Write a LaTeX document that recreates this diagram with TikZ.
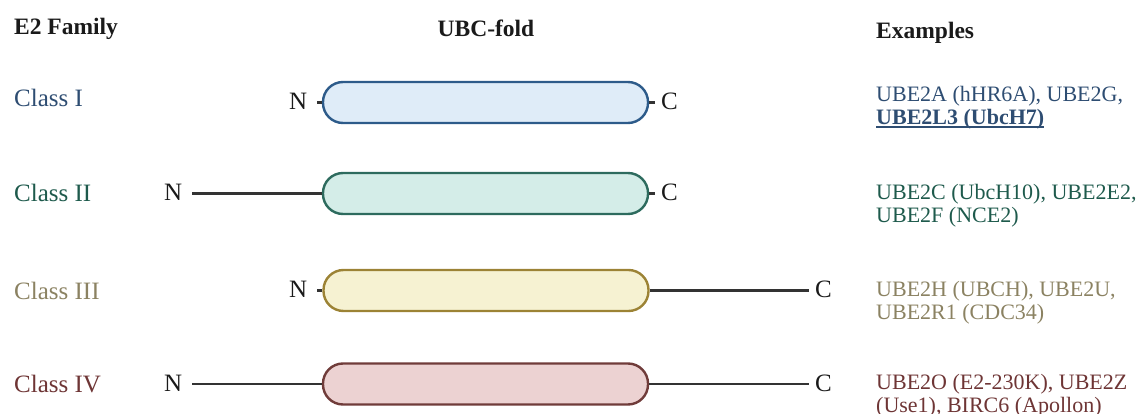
\documentclass[tikz,border=0pt]{standalone}
\usepackage{fontspec}
\setmainfont{Liberation Serif}
\definecolor{ink}{HTML}{1A1A1A}
\definecolor{linegray}{HTML}{333333}
\definecolor{c1text}{HTML}{2E4D72}
\definecolor{c1draw}{HTML}{2D5B8A}
\definecolor{c1fill}{HTML}{DFECF8}
\definecolor{c2text}{HTML}{1E5A4C}
\definecolor{c2draw}{HTML}{2D6B5E}
\definecolor{c2fill}{HTML}{D4EDE8}
\definecolor{c3text}{HTML}{8B8262}
\definecolor{c3draw}{HTML}{9C8335}
\definecolor{c3fill}{HTML}{F6F2D2}
\definecolor{c4text}{HTML}{6E3535}
\definecolor{c4draw}{HTML}{703C3A}
\definecolor{c4fill}{HTML}{ECD2D2}
\newcommand\myul[1]{\setbox0\hbox{#1}\rlap{\rule[-3.2pt]{\wd0}{1.6pt}}\box0}
\begin{document}
\begin{tikzpicture}[x=1pt,y=-1pt,
  box/.style={draw, line width=2.4pt, rounded corners=20pt, minimum width=325pt, minimum height=41pt, inner sep=0pt},
  conn/.style={draw=linegray, line width=2.5pt},
  term/.style={font=\fontsize{25}{25}\selectfont, text=ink, inner ysep=0pt},
  nterm/.style={term, inner xsep=9.5pt, anchor=base east},
  cterm/.style={term, inner xsep=6pt, anchor=base west},
  cls/.style={font=\fontsize{25}{25}\selectfont, anchor=base west, inner sep=0pt},
  ex/.style={font=\fontsize{22}{23}\selectfont, align=left, anchor=north west, inner sep=0pt},
  head/.style={font=\bfseries\fontsize{23.5}{24}\selectfont, text=ink, inner sep=0pt}]
\useasboundingbox (0,0) rectangle (1140,414);
% headers
\node[head, anchor=base west] (hfam) at (14,35) {E2 Family};
\node[head, anchor=base] (hubc) at (486,37) {UBC-fold};
\node[head, anchor=base west] (hex) at (876,39) {Examples};
% class labels
\node[cls, text=c1text] (l1) at (14,107) {Class I};
\node[cls, text=c2text] (l2) at (14,202) {Class II};
\node[cls, text=c3text] (l3) at (14,299) {Class III};
\node[cls, text=c4text] (l4) at (14,392) {Class IV};
% boxes
\node[box, draw=c1draw, fill=c1fill] (b1) at (485.5,102.5) {};
\node[box, draw=c2draw, fill=c2fill] (b2) at (485.5,193.5) {};
\node[box, draw=c3draw, fill=c3fill] (b3) at (486,290.5) {};
\node[box, draw=c4draw, fill=c4fill] (b4) at (485.5,384) {};
% termini
\node[nterm] (n1) at (317,109.5) {N};
\node[cterm] (c1) at (655,109.5) {C};
\node[nterm] (n2) at (192,200.5) {N};
\node[cterm] (c2) at (655,200.5) {C};
\node[nterm] (n3) at (317,297.5) {N};
\node[cterm] (c3) at (809,297.5) {C};
\node[nterm] (n4) at (192,391) {N};
\node[cterm] (c4) at (809,391) {C};
% connectors
\draw[conn] (b1.west -| n1.east) -- (b1.west);
\draw[conn] (b1.east) -- (b1.east -| c1.west);
\draw[conn] (b2.west -| n2.east) -- (b2.west);
\draw[conn] (b2.east) -- (b2.east -| c2.west);
\draw[conn] (b3.west -| n3.east) -- (b3.west);
\draw[conn] (b3.east) -- (b3.east -| c3.west);
\draw[conn] (b4.west -| n4.east) -- (b4.west);
\draw[conn] (b4.east) -- (b4.east -| c4.west);
% examples
\node[ex, text=c1text] (e1) at (876,86.3) {UBE2A (hHR6A), UBE2G,\\\myul{\textbf{UBE2L3 (UbcH7)}}};
\node[ex, text=c2text] (e2) at (876,184.3) {UBE2C (UbcH10), UBE2E2,\\UBE2F (NCE2)};
\node[ex, text=c3text] (e3) at (876,281.3) {UBE2H (UBCH), UBE2U,\\UBE2R1 (CDC34)};
\node[ex, text=c4text] (e4) at (876,374.3) {UBE2O (E2-230K), UBE2Z\\(Use1), BIRC6 (Apollon)};
\end{tikzpicture}
\end{document}
